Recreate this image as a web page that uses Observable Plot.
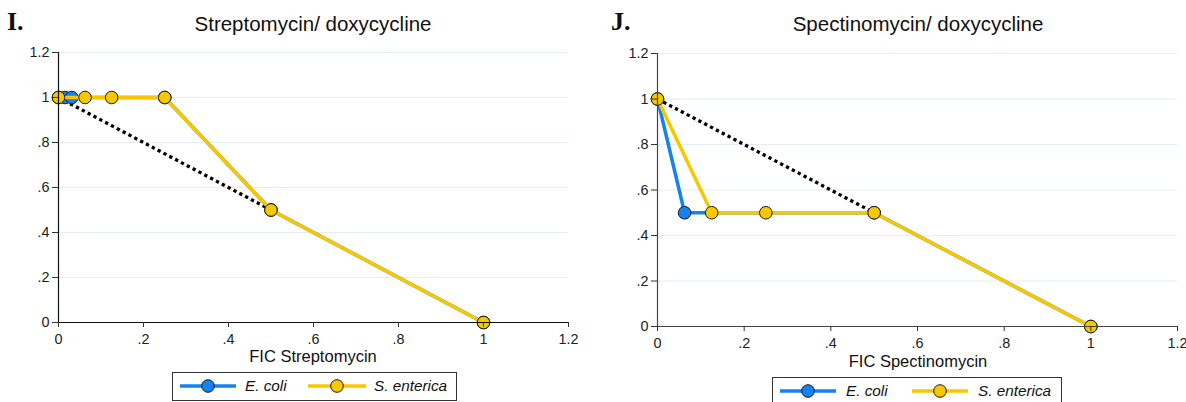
<!DOCTYPE html>
<html>
<head>
<meta charset="utf-8">
<script src="https://cdn.jsdelivr.net/npm/d3@7"></script>
<script src="https://cdn.jsdelivr.net/npm/@observablehq/plot@0.6"></script>
<style>
  html, body { margin: 0; padding: 0; background: #fff; }
  body { width: 1186px; height: 402px; position: relative; overflow: hidden; font-family: "Liberation Sans", Arial, sans-serif; color: #111; }
  .abs { position: absolute; }
  .panel-letter { font-family: "Liberation Serif", "Times New Roman", serif; font-weight: bold; font-size: 26px; }
  .title { font-size: 20.5px; white-space: nowrap; transform: translateX(-50%); }
  .xlabel { font-size: 16.5px; line-height: 1; white-space: nowrap; transform: translateX(-50%); }
  .legend { border: 1px solid #333; box-sizing: border-box; background: #fff; }
  .legend span { position: absolute; font-style: italic; font-size: 15.3px; white-space: nowrap; }
  .legend svg { position: absolute; }
  svg.chart text { font-size: 14.4px !important; fill: #222; }
</style>
</head>
<body>
<script>
// ---- data ----
const xTicks = [0, 0.2, 0.4, 0.6, 0.8, 1, 1.2];
const yTicks = [0, 0.2, 0.4, 0.6, 0.8, 1, 1.2];
const seriesNames = ["E. coli", "S. enterica"];
const seriesColors = ["#1483f0", "#f7c800"];

// Panel I: Streptomycin / doxycycline
const strepEcoliX = [0, 0.015625, 0.03125, 0.25, 0.5, 1];
const strepEcoliY = [1, 1, 1, 1, 0.5, 0];
const strepSentX  = [0, 0.0625, 0.125, 0.25, 0.5, 1];
const strepSentY  = [1, 1, 1, 1, 0.5, 0];
const strepAddX   = [0, 0.5];
const strepAddY   = [1, 0.5];

// Panel J: Spectinomycin / doxycycline
const spectEcoliX = [0, 0.0625, 0.5, 1];
const spectEcoliY = [1, 0.5, 0.5, 0];
const spectSentX  = [0, 0.125, 0.25, 0.5, 1];
const spectSentY  = [1, 0.5, 0.5, 0.5, 0];
const spectAddX   = [0, 0.5];
const spectAddY   = [1, 0.5];

const fmt = d => d === 0 ? "0" : String(d).replace(/^0\./, ".");
const zip = (xs, ys) => xs.map((x, i) => ({x, y: ys[i]}));

function addDiv(cls, left, top, text) {
  const d = document.createElement("div");
  d.className = "abs " + cls;
  d.style.left = left + "px";
  d.style.top = top + "px";
  if (text != null) d.textContent = text;
  document.body.appendChild(d);
  return d;
}

function makePanel(cfg) {
  const ecoli = zip(cfg.ecoliX, cfg.ecoliY);
  const sent = zip(cfg.sentX, cfg.sentY);
  const add = zip(cfg.addX, cfg.addY);
  const chart = Plot.plot({
    width: cfg.width,
    height: cfg.height,
    marginLeft: 58,
    marginRight: cfg.marginRight,
    marginTop: cfg.marginTop,
    marginBottom: 48,
    className: "chart",
    style: {fontFamily: '"Liberation Sans", Arial, sans-serif', fontSize: "14.4px", color: "#222", background: "transparent", overflow: "visible"},
    x: {domain: [0, 1.2]},
    y: {domain: [0, 1.2]},
    marks: [
      Plot.gridY(yTicks, {stroke: "#e4edf0", strokeOpacity: 1, strokeWidth: 1.2}),
      Plot.line(add, {x: "x", y: "y", stroke: "#000", strokeWidth: 3.3, strokeDasharray: "3.3,3.3", strokeLinecap: "butt"}),
      Plot.line(ecoli, {x: "x", y: "y", stroke: seriesColors[0], strokeWidth: 3.5}),
      Plot.dot(ecoli, {x: "x", y: "y", r: 6.3, fill: seriesColors[0], stroke: "#1a1a1a", strokeWidth: 1}),
      Plot.line(sent, {x: "x", y: "y", stroke: seriesColors[1], strokeWidth: 3.5}),
      Plot.dot(sent, {x: "x", y: "y", r: 6.3, fill: seriesColors[1], stroke: "#1a1a1a", strokeWidth: 1}),
      Plot.ruleX([0], {stroke: cfg.axisColor, strokeWidth: 1.2}),
      Plot.ruleY([0], {stroke: cfg.axisColor, strokeWidth: 1.2}),
      Plot.axisX({ticks: xTicks, tickFormat: fmt, tickSize: 5, tickPadding: 6, fontSize: 14.4, label: null, stroke: "#333"}),
      Plot.axisY({ticks: yTicks, tickFormat: fmt, tickSize: 6, tickPadding: 3, fontSize: 14.4, label: null, stroke: "#333"})
    ]
  });
  chart.style.position = "absolute";
  chart.style.left = cfg.left + "px";
  chart.style.top = "0px";
  document.body.appendChild(chart);

  addDiv("panel-letter", cfg.letterX, 7, cfg.letter);
  addDiv("title", cfg.titleX, 12, cfg.title);
  addDiv("xlabel", cfg.titleX, cfg.xlabelTop, cfg.xlabel);

  const lg = addDiv("legend", cfg.legend.left, cfg.legend.top);
  lg.style.width = cfg.legend.width + "px";
  lg.style.height = cfg.legend.height + "px";
  cfg.legend.items.forEach((it, i) => {
    const svg = d3.create("svg").attr("width", it.symW).attr("height", 16)
      .style("left", it.symX + "px").style("top", (cfg.legend.symTop) + "px");
    svg.append("line").attr("x1", 0).attr("x2", it.symW).attr("y1", 8).attr("y2", 8)
      .attr("stroke", seriesColors[i]).attr("stroke-width", 3.5);
    svg.append("circle").attr("cx", it.symW / 2).attr("cy", 8).attr("r", 6.3)
      .attr("fill", seriesColors[i]).attr("stroke", "#1a1a1a").attr("stroke-width", 1);
    lg.appendChild(svg.node());
    const s = document.createElement("span");
    s.textContent = seriesNames[i];
    s.style.left = it.textX + "px";
    s.style.top = cfg.legend.textTop + "px";
    lg.appendChild(s);
  });
}

makePanel({
  left: 0, width: 593, height: 370, marginRight: 25, marginTop: 52, axisColor: "#111",
  ecoliX: strepEcoliX, ecoliY: strepEcoliY, sentX: strepSentX, sentY: strepSentY,
  addX: strepAddX, addY: strepAddY,
  letter: "I.", letterX: 7, title: "Streptomycin/ doxycycline", titleX: 313,
  xlabel: "FIC Streptomycin", xlabelTop: 348,
  legend: {left: 172, top: 372, width: 285, height: 29, symTop: 5, textTop: 4,
    items: [{symX: 7, symW: 56, textX: 72}, {symX: 135, symW: 58, textX: 201}]}
});

makePanel({
  left: 599, width: 587, height: 374, marginRight: 9, marginTop: 53, axisColor: "#444",
  ecoliX: spectEcoliX, ecoliY: spectEcoliY, sentX: spectSentX, sentY: spectSentY,
  addX: spectAddX, addY: spectAddY,
  letter: "J.", letterX: 611, title: "Spectinomycin/ doxycycline", titleX: 918,
  xlabel: "FIC Spectinomycin", xlabelTop: 352.5,
  legend: {left: 772, top: 377, width: 290, height: 30, symTop: 5, textTop: 4,
    items: [{symX: 7, symW: 56, textX: 73}, {symX: 139, symW: 56, textX: 205}]}
});
</script>
</body>
</html>
